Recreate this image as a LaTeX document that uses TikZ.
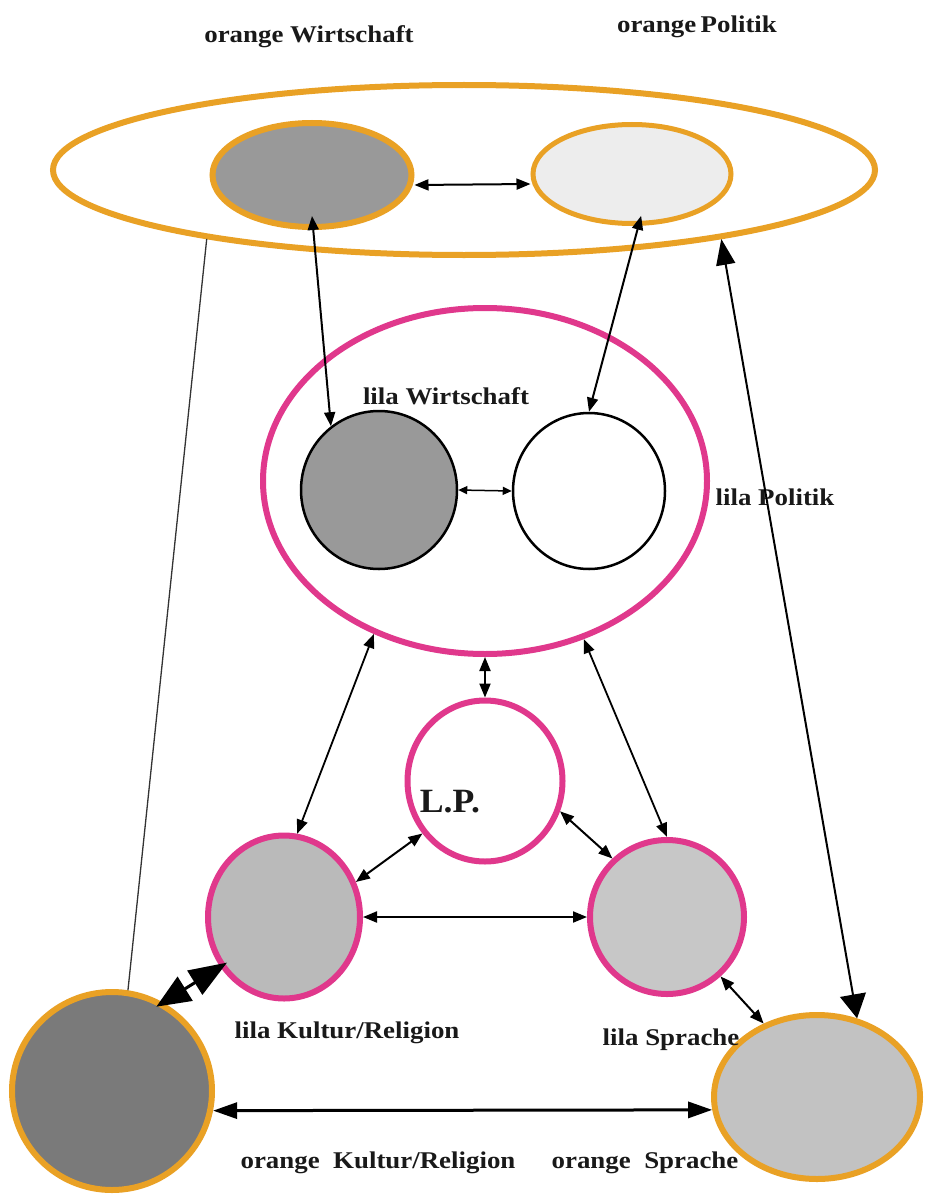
\documentclass[tikz,border=0pt]{standalone}
\usepackage{fontspec}
\setmainfont{Liberation Serif}
\usepackage{graphicx}
\usetikzlibrary{shapes.geometric,arrows.meta}
\definecolor{org}{HTML}{E9A125}
\definecolor{lil}{HTML}{E0388C}
\newcommand{\lab}[1]{\scalebox{1.12}[1]{\fontsize{24}{28}\selectfont\bfseries #1}}
\tikzset{
  blob/.style={ellipse, inner sep=0pt},
  oring/.style={blob, draw=org, line width=6pt},
  lring/.style={blob, draw=lil, line width=5.5pt},
  bring/.style={blob, draw=black, line width=2.5pt},
  txt/.style={inner sep=0pt, text=black!90},
  arr/.style={line width=2pt, {Triangle[length=14pt,width=11pt]}-{Triangle[length=14pt,width=11pt]}},
  smallarr/.style={line width=1.5pt, {Triangle[length=9pt,width=8pt]}-{Triangle[length=9pt,width=8pt]}},
  bigarr/.style={line width=2pt, {Triangle[length=26pt,width=19pt]}-{Triangle[length=24pt,width=26pt]}},
  thickarr/.style={line width=3pt, {Triangle[length=34pt,width=28pt]}-{Triangle[length=38pt,width=28pt]}},
  botarr/.style={line width=3pt, {Triangle[length=24pt,width=16pt]}-{Triangle[length=24pt,width=16pt]}},
}
\begin{document}
\begin{tikzpicture}[x=1pt,y=-1pt]
\useasboundingbox[fill=white] (0,0) rectangle (926,1196);

% orange outer ellipse and its circles
\node[oring, minimum width=822pt, minimum height=170pt] (be) at (464,170) {};
\node[oring, fill=black!40, minimum width=199pt, minimum height=104pt] (ow) at (312,175) {};
\node[oring, line width=5pt, fill=black!7, minimum width=198pt, minimum height=99pt] (op) at (632,174) {};

% lila ellipse
\node[lring, line width=6pt, minimum width=444pt, minimum height=346pt] (le) at (485,481) {};
\node[bring, fill=black!40, minimum width=156pt, minimum height=158pt] (lw) at (379,490) {};
\node[bring, fill=white, minimum width=152pt, minimum height=156pt] (wc) at (589,491) {};

% lila circles
\node[lring, line width=6pt, fill=white, minimum width=155pt, minimum height=161pt] (lp) at (485,781) {};
\node[lring, line width=6pt, fill=black!27, minimum width=152pt, minimum height=163pt] (lk) at (284,917) {};
\node[lring, line width=6pt, fill=black!22, minimum width=154pt, minimum height=154pt] (ls) at (667,917) {};

% orange bottom circles
\node[oring, fill=black!52, minimum width=200pt, minimum height=198pt] (ok) at (112,1091) {};
\node[oring, fill=black!24, minimum width=206pt, minimum height=164pt] (os) at (817,1097) {};

% labels
\node[txt] (t1) at (309,37) {\lab{orange Wirtschaft}};
\node[txt] (t2) at (697,27) {\lab{orange\hspace{-2pt} Politik}};
\node[txt] (t3) at (446,396) {\lab{lila Wirtschaft}};
\node[txt] (t4) at (775,497) {\lab{lila Politik}};
\node[txt] (t5) at (450,802) {\scalebox{1.05}[1]{\fontsize{34}{40}\selectfont\bfseries L.P.}};
\node[txt] (t6) at (347,1033) {\lab{lila Kultur/Religion}};
\node[txt] (t7) at (671,1040) {\lab{lila Sprache}};
\node[txt] (t8) at (378,1163) {\lab{orange\ \ Kultur/Religion}};
\node[txt] (t9) at (645,1163) {\lab{orange\ \ Sprache}};

% connectors
\draw[arr] ([yshift=14pt]ow.south) -- (lw.127);
\draw[arr] ([yshift=10pt]op.-80) -- (wc.north);
\draw[arr] ([yshift=-10pt]ow.east) -- ([yshift=-10pt]op.west);
\draw[smallarr] (lw.east) -- (wc.west);
\draw[line width=1.3pt, black!80] (be.195) -- (ok.81);
\draw[bigarr] (be.-15) -- (os.63);
\draw[arr, line width=1.8pt] (le.234) -- (lk.81);
\draw[arr] (le.south) -- (lp.north);
\draw[arr, line width=1.8pt] (le.-58) -- (ls.north);
\draw[arr] (lp.220) -- (lk.26);
\draw[arr] (lp.-22) -- (ls.133);
\draw[arr] (lk.east) -- (ls.west);
\draw[thickarr, shorten <=-8pt, shorten >=-8pt] (ok.60) -- (lk.218);
\draw[arr] (ls.-48) -- (os.126);
\draw[botarr] (ok.-11) -- (os.187);
\end{tikzpicture}
\end{document}
